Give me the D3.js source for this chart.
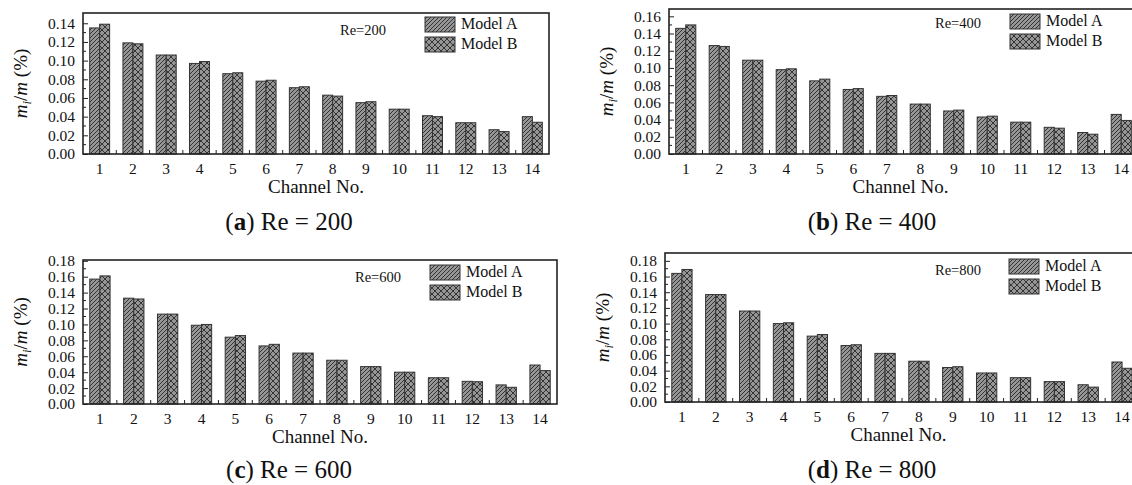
<!DOCTYPE html>
<html lang="en">
<head>
<meta charset="utf-8">
<title>Channel mass flow distribution</title>
<script src="https://cdn.jsdelivr.net/npm/d3@7"></script>
<style>
  body { margin: 0; background: #fff; }
  text { font-family: "Liberation Serif", "Times New Roman", serif; fill: #111; }
</style>
</head>
<body>
<script>
// channel numbers on the x axis
var channels = [1, 2, 3, 4, 5, 6, 7, 8, 9, 10, 11, 12, 13, 14];

// m_i/m (%)
var re200A = [0.135, 0.119, 0.106, 0.097, 0.086, 0.078, 0.071, 0.063, 0.055, 0.048, 0.041, 0.0335, 0.026, 0.040];
var re200B = [0.139, 0.118, 0.106, 0.099, 0.087, 0.079, 0.072, 0.062, 0.056, 0.048, 0.040, 0.0335, 0.024, 0.034];
var re400A = [0.146, 0.126, 0.109, 0.098, 0.085, 0.075, 0.067, 0.058, 0.050, 0.043, 0.037, 0.031, 0.025, 0.046];
var re400B = [0.150, 0.125, 0.109, 0.099, 0.087, 0.076, 0.068, 0.058, 0.051, 0.044, 0.037, 0.030, 0.023, 0.039];
var re600A = [0.157, 0.133, 0.113, 0.099, 0.084, 0.073, 0.064, 0.055, 0.047, 0.040, 0.033, 0.0285, 0.024, 0.049];
var re600B = [0.161, 0.132, 0.113, 0.100, 0.086, 0.075, 0.064, 0.055, 0.047, 0.040, 0.033, 0.028, 0.021, 0.042];
var re800A = [0.164, 0.137, 0.116, 0.100, 0.084, 0.072, 0.062, 0.052, 0.044, 0.037, 0.031, 0.026, 0.022, 0.051];
var re800B = [0.169, 0.137, 0.116, 0.101, 0.086, 0.073, 0.062, 0.052, 0.045, 0.037, 0.031, 0.026, 0.019, 0.043];

// y tick labels
var ticks200 = ["0.00", "0.02", "0.04", "0.06", "0.08", "0.10", "0.12", "0.14"];
var ticks400 = ["0.00", "0.02", "0.04", "0.06", "0.08", "0.10", "0.12", "0.14", "0.16"];
var ticks600 = ["0.00", "0.02", "0.04", "0.06", "0.08", "0.10", "0.12", "0.14", "0.16", "0.18"];
var ticks800 = ["0.00", "0.02", "0.04", "0.06", "0.08", "0.10", "0.12", "0.14", "0.16", "0.18"];

var seriesNames = ["Model A", "Model B"];

var W = 1132, H = 485;

var panels = [
  { tag: "a", re: "200", A: re200A, B: re200B, ticks: ticks200, yMax: 0.151,
    left: 83, right: 549, top: 13, bottom: 154, legX: 425, legY: 17, reX: 340, reY: 35, capX: 289, capY: 230 },
  { tag: "b", re: "400", A: re400A, B: re400B, ticks: ticks400, yMax: 0.1685,
    left: 669, right: 1138, top: 9, bottom: 154, legX: 1010, legY: 14, reX: 935, reY: 28, capX: 872, capY: 230 },
  { tag: "c", re: "600", A: re600A, B: re600B, ticks: ticks600, yMax: 0.181,
    left: 83, right: 557, top: 260, bottom: 404, legX: 430, legY: 265, reX: 355, reY: 282, capX: 289, capY: 478 },
  { tag: "d", re: "800", A: re800A, B: re800B, ticks: ticks800, yMax: 0.19,
    left: 665, right: 1139, top: 253, bottom: 402, legX: 1009, legY: 259, reX: 935, reY: 275, capX: 872, capY: 478 }
];

var svg = d3.select("body").append("svg")
    .attr("width", W)
    .attr("height", H);

// hatch patterns for the two models
var defs = svg.append("defs");
var pa = defs.append("pattern")
    .attr("id", "hatchA")
    .attr("patternUnits", "userSpaceOnUse")
    .attr("width", 4).attr("height", 4);
pa.append("rect").attr("width", 4).attr("height", 4).attr("fill", "#969696");
pa.append("path")
    .attr("d", "M-1,1 L1,-1 M0,4 L4,0 M3,5 L5,3")
    .attr("stroke", "#222").attr("stroke-width", 0.85);

var pb = defs.append("pattern")
    .attr("id", "crossB")
    .attr("patternUnits", "userSpaceOnUse")
    .attr("width", 6).attr("height", 6);
pb.append("rect").attr("width", 6).attr("height", 6).attr("fill", "#969696");
pb.append("path")
    .attr("d", "M0,0 L6,6 M6,0 L0,6")
    .attr("stroke", "#222").attr("stroke-width", 0.85);

var fills = ["url(#hatchA)", "url(#crossB)"];

panels.forEach(function(p) {
  var g = svg.append("g");

  var x = d3.scaleBand()
      .domain(channels)
      .range([p.left, p.right])
      .paddingInner(0.4)
      .paddingOuter(0.2);

  var xs = d3.scaleBand()
      .domain([0, 1])
      .range([0, x.bandwidth()]);

  var y = d3.scaleLinear()
      .domain([0, p.yMax])
      .range([p.bottom, p.top]);

  var tickVals = p.ticks.map(Number);
  var minorVals = tickVals.slice(0, -1).map(function(v) { return v + 0.01; });

  // bars
  [p.A, p.B].forEach(function(vals, si) {
    g.selectAll(".bar" + si)
      .data(vals)
      .enter().append("rect")
      .attr("x", function(d, i) { return x(channels[i]) + xs(si); })
      .attr("y", function(d) { return y(d); })
      .attr("width", xs.bandwidth())
      .attr("height", function(d) { return p.bottom - y(d); })
      .attr("fill", fills[si])
      .attr("stroke", "#333")
      .attr("stroke-width", 1);
  });

  // frame
  g.append("rect")
    .attr("x", p.left).attr("y", p.top)
    .attr("width", p.right - p.left).attr("height", p.bottom - p.top)
    .attr("fill", "none")
    .attr("stroke", "#222")
    .attr("stroke-width", 1.6);

  // y axis
  var yAxis = d3.axisLeft(y)
      .tickValues(tickVals)
      .tickSize(-5)
      .tickPadding(8)
      .tickFormat(function(d, i) { return p.ticks[i]; });
  var ya = g.append("g")
      .attr("transform", "translate(" + p.left + ",0)")
      .call(yAxis);
  ya.select(".domain").remove();
  ya.selectAll("line").attr("stroke", "#222");
  ya.selectAll("text")
      .attr("font-size", 15.5)
      .attr("font-family", "Liberation Serif")
      .attr("fill", "#111");

  g.append("g")
    .selectAll("line")
    .data(minorVals)
    .enter().append("line")
    .attr("x1", p.left).attr("x2", p.left + 3)
    .attr("y1", function(d) { return y(d); })
    .attr("y2", function(d) { return y(d); })
    .attr("stroke", "#222");

  // x axis: labels under each band, small ticks between bands
  var step = x.step();
  var xa = g.append("g")
      .attr("transform", "translate(0," + p.bottom + ")")
      .call(d3.axisBottom(x).tickSize(0).tickPadding(9));
  xa.select(".domain").remove();
  xa.selectAll("text")
      .attr("font-size", 15.5)
      .attr("font-family", "Liberation Serif")
      .attr("fill", "#111");

  g.append("g")
    .selectAll("line")
    .data(channels.slice(1))
    .enter().append("line")
    .attr("x1", function(d) { return x(d) + x.bandwidth() / 2 - step / 2; })
    .attr("x2", function(d) { return x(d) + x.bandwidth() / 2 - step / 2; })
    .attr("y1", p.bottom).attr("y2", p.bottom - 4)
    .attr("stroke", "#222");

  // axis titles
  g.append("text")
    .attr("x", (p.left + p.right) / 2 + (p.right > W ? -(p.right - W) / 2 : 0))
    .attr("y", p.bottom + 39)
    .attr("text-anchor", "middle")
    .attr("font-size", 19)
    .text("Channel No.");

  var yt = g.append("text")
    .attr("transform", "translate(" + (p.left - 56) + "," + ((p.top + p.bottom) / 2) + ") rotate(-90)")
    .attr("text-anchor", "middle")
    .attr("font-size", 19);
  yt.append("tspan").attr("font-style", "italic").text("m");
  yt.append("tspan").attr("font-style", "italic").attr("font-size", 13).attr("dy", 4).text("i");
  yt.append("tspan").attr("dy", -4).text("/");
  yt.append("tspan").attr("font-style", "italic").text("m");
  yt.append("tspan").text(" (%)");

  // Re label
  g.append("text")
    .attr("x", p.reX)
    .attr("y", p.reY)
    .attr("font-size", 14.5)
    .text("Re=" + p.re);

  // legend
  seriesNames.forEach(function(name, si) {
    var ly = p.legY + si * 20;
    g.append("rect")
      .attr("x", p.legX).attr("y", ly)
      .attr("width", 30).attr("height", 15)
      .attr("fill", fills[si])
      .attr("stroke", "#333");
    g.append("text")
      .attr("x", p.legX + 36)
      .attr("y", ly + 12)
      .attr("font-size", 16)
      .text(name);
  });

  // caption
  var cap = svg.append("text")
    .attr("x", p.capX)
    .attr("y", p.capY)
    .attr("text-anchor", "middle")
    .attr("font-size", 25);
  cap.append("tspan").text("(");
  cap.append("tspan").attr("font-weight", "bold").text(p.tag);
  cap.append("tspan").text(") Re = " + p.re);
});
</script>
</body>
</html>
